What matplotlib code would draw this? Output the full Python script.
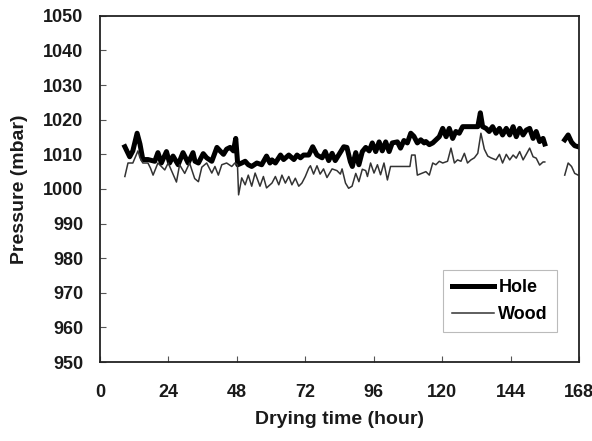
import numpy as np
import matplotlib
matplotlib.use("Agg")
from matplotlib import pyplot as plt

# hole sensor (thick line), gap between ~156 h and ~163 h
hole_t = [8.7, 10.4, 11.5, 13.0, 14.0, 15.0, 16.8, 19.2, 20.3, 21.5, 23.3, 24.4, 25.6, 27.4,
          29.1, 30.9, 32.6, 33.3, 34.5, 36.2, 37.4, 39.2, 41.0, 42.1, 43.3, 44.4, 45.6, 46.8,
          47.6, 48.3, 49.7, 50.9, 52.0, 53.2, 55.0, 56.7, 58.4, 59.6, 60.3, 61.5, 63.3, 64.4,
          66.2, 68.0, 69.1, 70.3, 71.4, 73.2, 74.6, 76.1, 77.9, 79.0, 80.2, 81.4, 82.5, 83.7,
          85.5, 86.6, 87.8, 88.5, 89.7, 90.8, 92.0, 93.2, 94.4, 95.5, 96.7, 97.9, 99.0, 100.2,
          101.4, 102.5, 104.3, 105.4, 106.6, 107.8, 109.0, 110.1, 111.3, 112.5, 113.7, 114.3,
          115.5, 116.7, 119.0, 120.2, 121.4, 122.5, 123.7, 124.8, 126.0, 127.2, 128.9, 130.7,
          132.5, 133.4, 134.2, 135.4, 136.5, 137.7, 138.9, 140.1, 141.2, 142.5, 143.7, 144.9,
          146.0, 147.2, 148.4, 149.5, 150.7, 151.9, 153.0, 154.2, 155.4, 156.0, 159.0,
          163.0, 164.2, 165.4, 166.5, 167.7]
hole_p = [1012.2, 1009.3, 1011.0, 1016.1, 1013.0, 1008.5, 1008.5, 1008.0, 1010.5, 1007.5,
          1010.8, 1007.5, 1009.5, 1007.0, 1010.5, 1007.5, 1010.5, 1008.0, 1007.5, 1010.2,
          1009.0, 1008.0, 1012.0, 1011.0, 1010.0, 1011.5, 1012.0, 1011.0, 1014.6, 1007.0,
          1007.5, 1008.0, 1007.0, 1006.5, 1007.5, 1007.0, 1009.5, 1007.5, 1008.4, 1007.5,
          1009.8, 1008.5, 1009.8, 1008.5, 1009.8, 1009.0, 1009.8, 1009.8, 1012.2, 1009.8,
          1009.0, 1010.8, 1008.2, 1010.3, 1008.2, 1009.8, 1012.2, 1012.0, 1007.9, 1006.5,
          1010.5, 1007.0, 1010.8, 1012.0, 1011.0, 1013.3, 1010.8, 1013.6, 1011.0, 1013.6,
          1010.8, 1013.3, 1013.6, 1011.8, 1014.0, 1013.3, 1016.1, 1015.2, 1013.3, 1014.2,
          1013.3, 1013.7, 1012.8, 1013.3, 1015.1, 1017.5, 1015.1, 1017.5, 1014.6, 1016.6,
          1016.1, 1018.0, 1018.0, 1018.0, 1018.0, 1022.0, 1018.0, 1017.5, 1016.6, 1018.0,
          1016.1, 1017.5, 1015.6, 1017.5, 1015.6, 1018.0, 1015.1, 1017.5, 1015.6, 1017.0,
          1017.5, 1014.6, 1016.6, 1013.7, 1014.6, 1013.0, np.nan,
          1014.2, 1015.6, 1013.5, 1012.5, 1012.2]

# wood sensor (thin line)
wood_t = [8.7, 9.8, 11.5, 13.3, 14.0, 15.0, 16.8, 17.7, 18.6, 20.3, 22.7, 23.9, 26.8, 27.9,
          29.7, 31.4, 33.2, 34.5, 35.7, 37.4, 39.2, 40.3, 41.5, 42.7, 44.4, 46.2, 47.3, 48.2,
          48.6, 49.7, 50.9, 52.0, 53.2, 54.4, 56.1, 57.3, 58.4, 60.3, 61.5, 62.7, 63.8, 65.0,
          66.2, 67.3, 68.5, 69.7, 70.8, 72.0, 73.2, 73.8, 74.9, 76.1, 77.2, 78.4, 79.6, 81.4,
          83.1, 84.3, 84.9, 86.1, 87.2, 88.4, 89.7, 90.8, 92.0, 93.2, 93.8, 94.9, 96.1, 97.3,
          98.4, 99.6, 100.8, 101.9, 103.1, 108.7, 109.3, 110.5, 111.3, 114.3, 115.5, 116.7,
          117.8, 119.0, 120.2, 121.9, 123.1, 124.3, 125.4, 126.6, 127.8, 128.9, 130.1, 131.3,
          132.5, 133.6, 134.8, 136.0, 137.1, 138.9, 140.1, 141.2, 142.5, 143.7, 144.9, 146.0,
          147.2, 148.4, 149.5, 150.7, 151.9, 153.0, 154.2, 155.4, 156.0, 159.0,
          163.0, 164.2, 165.4, 166.5, 167.7]
wood_p = [1003.6, 1007.5, 1007.5, 1011.0, 1009.0, 1007.5, 1007.5, 1006.0, 1004.0, 1007.5,
          1005.5, 1007.5, 1002.0, 1007.0, 1004.5, 1007.5, 1003.0, 1002.1, 1006.3, 1007.5,
          1004.6, 1006.5, 1004.0, 1007.0, 1007.5, 1006.5, 1007.5, 1007.0, 998.3, 1003.2,
          1001.2, 1004.0, 1000.8, 1004.6, 1000.8, 1003.6, 1000.3, 1001.7, 1003.6, 1001.2,
          1004.0, 1001.7, 1003.6, 1001.2, 1003.1, 1000.8, 1001.7, 1003.6, 1006.0, 1006.7,
          1004.3, 1006.7, 1004.3, 1005.8, 1003.3, 1005.8, 1005.3, 1004.3, 1005.8, 1001.7,
          1000.2, 1000.8, 1004.5, 1002.1, 1005.7, 1005.3, 1003.6, 1007.5, 1004.6, 1007.0,
          1004.1, 1007.5, 1002.6, 1006.5, 1006.5, 1006.5, 1009.8, 1009.8, 1004.0, 1005.0,
          1004.0, 1007.5, 1007.0, 1008.0, 1007.5, 1008.0, 1011.8, 1007.5, 1008.4, 1008.0,
          1010.3, 1007.5, 1008.4, 1009.0, 1010.3, 1016.1, 1011.5, 1009.5, 1009.0, 1008.4,
          1010.0, 1007.5, 1010.0, 1008.4, 1009.8, 1008.9, 1010.8, 1008.4, 1010.0, 1011.8,
          1009.3, 1008.9, 1006.9, 1007.8, 1007.8, np.nan,
          1004.0, 1007.5, 1006.5, 1004.5, 1004.0]

x_ticks = [0, 24, 48, 72, 96, 120, 144, 168]
y_ticks = list(range(950, 1051, 10))

plt.rcParams['font.family'] = ['Liberation Sans', 'DejaVu Sans']
plt.rcParams['font.weight'] = 'bold'

fig = plt.figure(figsize=(5.92, 4.41), dpi=100)
ax = fig.add_axes([0.169, 0.179, 0.809, 0.785])

ax.plot(hole_t, hole_p, color='black', lw=3.6, label='Hole', solid_joinstyle='round')
ax.plot(wood_t, wood_p, color='#333333', lw=1.1, label='Wood')

ax.set_xlim(0, 168)
ax.set_ylim(950, 1050)
ax.set_xticks(x_ticks)
ax.set_yticks(y_ticks)
ax.tick_params(direction='in', length=4, width=0.8, labelsize=13, color='#555555',
               labelcolor='#1a1a1a')
ax.tick_params(axis='x', pad=16)
ax.tick_params(axis='y', pad=12)
for s in ax.spines.values():
    s.set_linewidth(1.3)
    s.set_color('#222222')

ax.set_xlabel('Drying time (hour)', fontsize=14, fontweight='bold', labelpad=7,
              color='#1a1a1a')
ax.set_ylabel('Pressure (mbar)', fontsize=14, fontweight='bold', labelpad=11,
              color='#1a1a1a')

leg = ax.legend(loc='upper right', bbox_to_anchor=(0.954, 0.266), borderaxespad=0,
                fancybox=False, edgecolor='#aaaaaa', fontsize=13, handlelength=2.3,
                handletextpad=0.25, labelspacing=0.55, borderpad=0.5)
leg.get_frame().set_linewidth(0.8)

fig.savefig('out.png', dpi=100)
